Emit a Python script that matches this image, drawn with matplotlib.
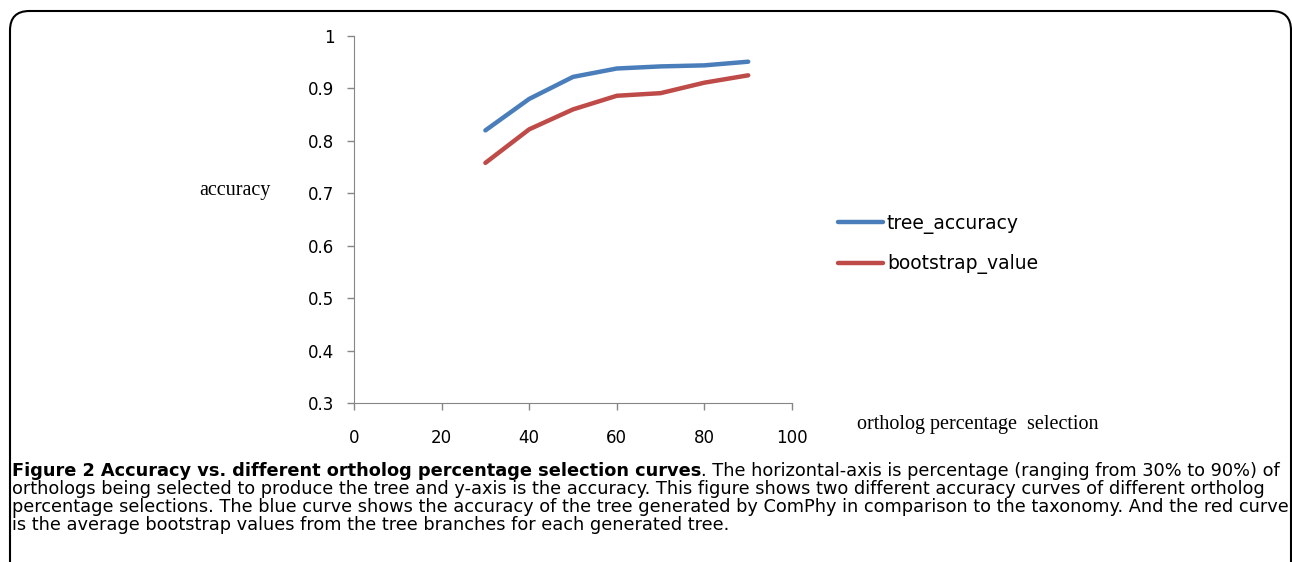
import matplotlib
matplotlib.use("Agg")
import matplotlib.pyplot as plt
from matplotlib.patches import FancyBboxPatch

# data
percent = [30, 40, 50, 60, 70, 80, 90]
tree_accuracy = [0.820, 0.880, 0.922, 0.938, 0.942, 0.944, 0.951]
bootstrap_value = [0.758, 0.822, 0.860, 0.886, 0.891, 0.911, 0.925]

x_ticks = [0, 20, 40, 60, 80, 100]
y_ticks = [0.3, 0.4, 0.5, 0.6, 0.7, 0.8, 0.9, 1]
y_labels = ["0.3", "0.4", "0.5", "0.6", "0.7", "0.8", "0.9", "1"]

caption_bold = "Figure 2 Accuracy vs. different ortholog percentage selection curves"
caption_lines = [
    ". The horizontal-axis is percentage (ranging from 30% to 90%) of",
    "orthologs being selected to produce the tree and y-axis is the accuracy. This figure shows two different accuracy curves of different ortholog",
    "percentage selections. The blue curve shows the accuracy of the tree generated by ComPhy in comparison to the taxonomy. And the red curve",
    "is the average bootstrap values from the tree branches for each generated tree.",
]

W, H = 1292, 562
fig = plt.figure(figsize=(W / 100, H / 100), dpi=100)

# rounded frame, only top/left/right visible
frame = FancyBboxPatch((10 / W, -0.1), (1291 - 10) / W, 1.1 - 11 / H,
                       boxstyle="round,pad=0,rounding_size=0.015",
                       transform=fig.transFigure, fill=False,
                       edgecolor="black", linewidth=1.5, mutation_aspect=W / H)
fig.patches.append(frame)

ax = fig.add_axes([354 / W, 1 - 403 / H, (792 - 354) / W, (403 - 36) / H])
ax.plot(percent, tree_accuracy, color="#4a7ebb", lw=3.2, label="tree_accuracy",
        solid_capstyle="round")
ax.plot(percent, bootstrap_value, color="#be4b48", lw=3.2, label="bootstrap_value",
        solid_capstyle="round")

ax.set_xlim(0, 100)
ax.set_ylim(0.3, 1)
ax.set_xticks(x_ticks)
ax.set_yticks(y_ticks)
ax.set_yticklabels(y_labels)
for s in ["top", "right"]:
    ax.spines[s].set_visible(False)
for s in ["left", "bottom"]:
    ax.spines[s].set_color("#868686")
ax.tick_params(axis="both", colors="#868686", labelcolor="black",
               labelsize=12, length=5, width=1)
ax.tick_params(axis="x", pad=14)
ax.tick_params(axis="y", pad=9)
for lab in ax.get_xticklabels() + ax.get_yticklabels():
    lab.set_fontfamily("DejaVu Sans")

fig.text(235 / W, 1 - 190 / H, "accuracy", family="Liberation Serif",
         fontsize=14.5, ha="center", va="center")
fig.text(978 / W, 1 - 425 / H, "ortholog percentage  selection",
         family="Liberation Serif", fontsize=14.5, ha="center", va="center")

fig.legend(loc="center left", bbox_to_anchor=(838 / W, 1 - 244 / H),
           frameon=False, prop={"family": "DejaVu Sans", "size": 13.5},
           handlelength=2.4, handletextpad=0.2, labelspacing=1.1,
           borderpad=0, borderaxespad=0)

# caption: size picked so the second line is as wide as in the figure
cap_family = "DejaVu Sans"
probe = fig.text(0, 0, caption_lines[1], family=cap_family, size=10)
fig.canvas.draw()
cap_size = 10 * 1250 / probe.get_window_extent().width
probe.remove()

y0 = 1 - 471 / H
t = fig.text(12 / W, y0, caption_bold, fontweight="bold", va="center",
             family=cap_family, size=cap_size)
fig.canvas.draw()
bb = t.get_window_extent()
fig.text(bb.x1 / W, y0, caption_lines[0], va="center", family=cap_family, size=cap_size)
for i, line in enumerate(caption_lines[1:]):
    fig.text(12 / W, 1 - (489 + 18.2 * i) / H, line, va="center",
             family=cap_family, size=cap_size)

fig.savefig("out.png", dpi=100)
